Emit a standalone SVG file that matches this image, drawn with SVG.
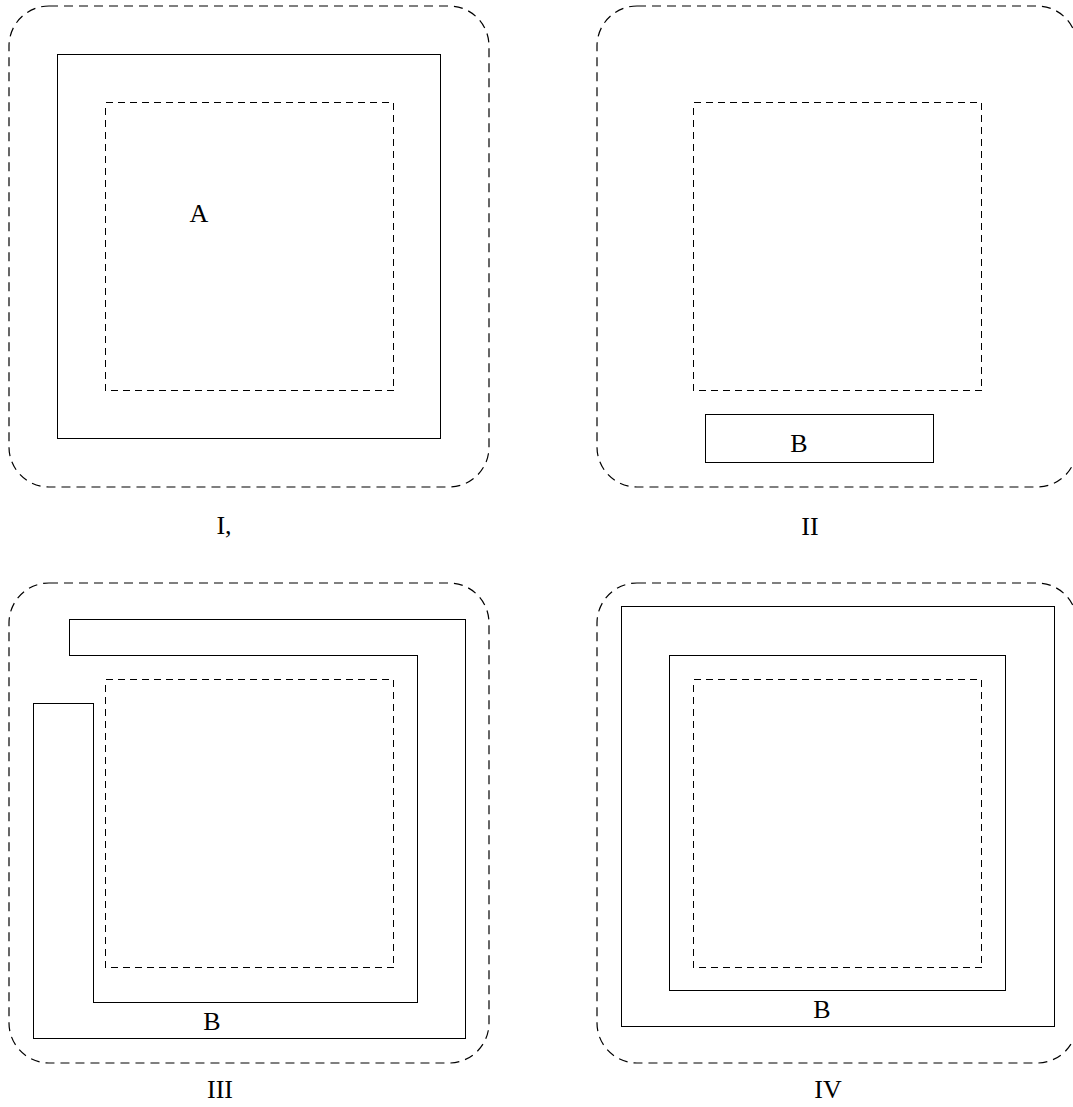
<svg xmlns="http://www.w3.org/2000/svg" width="1073" height="1107" viewBox="0 0 1073 1107">
<style>
.outer{fill:none;stroke:#000;stroke-width:1.2;stroke-dasharray:9 6}
.inner{fill:none;stroke:#000;stroke-width:1;stroke-dasharray:7 5;shape-rendering:crispEdges}
.solid{fill:none;stroke:#000;stroke-width:1;shape-rendering:crispEdges}
.t{font-family:"Liberation Serif",serif;font-size:26px;fill:#000;text-anchor:middle}
</style>
<rect width="1073" height="1107" fill="#fff"/>
<g id="panel-I">
<rect class="outer" x="9" y="6" width="480" height="481" rx="40" ry="40"/>
<rect class="solid" x="57.5" y="54.5" width="383" height="384"/>
<rect class="inner" x="105.5" y="102.5" width="288" height="288"/>
<text class="t" x="199" y="222">A</text>
<text class="t" x="224" y="534">I,</text>
</g>
<g id="panel-II">
<rect class="outer" x="597" y="6" width="480" height="481" rx="40" ry="40"/>
<rect class="inner" x="693.5" y="102.5" width="288" height="288"/>
<rect class="solid" x="705.5" y="414.5" width="228" height="48"/>
<text class="t" x="799" y="452">B</text>
<text class="t" x="810" y="535">II</text>
</g>
<g id="panel-III">
<rect class="outer" x="9" y="583" width="480" height="480" rx="40" ry="40"/>
<rect class="inner" x="105.5" y="679.5" width="288" height="288"/>
<path class="solid" d="M69.5,619.5 H465.5 V1038.5 H33.5 V703.5 H93.5 V1002.5 H417.5 V655.5 H69.5 Z"/>
<text class="t" x="212" y="1030">B</text>
<text class="t" x="220" y="1098">III</text>
</g>
<g id="panel-IV">
<rect class="outer" x="597" y="583" width="480" height="480" rx="40" ry="40"/>
<rect class="solid" x="621.5" y="606.5" width="433" height="420"/>
<rect class="solid" x="669.5" y="655.5" width="336" height="335"/>
<rect class="inner" x="693.5" y="679.5" width="288" height="288"/>
<text class="t" x="822" y="1018">B</text>
<text class="t" x="828" y="1098">IV</text>
</g>
<g id="connectors"/>
</svg>
